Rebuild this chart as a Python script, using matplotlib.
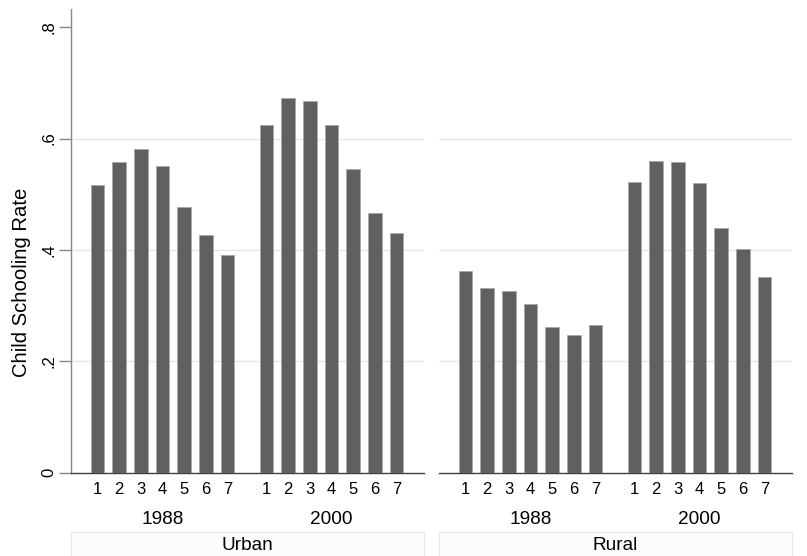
import matplotlib
matplotlib.use("Agg")
import matplotlib.pyplot as plt
from matplotlib.patches import Rectangle
import numpy as np

plt.rcParams['font.family'] = ['Liberation Sans', 'DejaVu Sans']

# data
areas = ["Urban", "Rural"]
years = ["1988", "2000"]
groups = ["1", "2", "3", "4", "5", "6", "7"]
urban_1988 = [0.517, 0.557, 0.581, 0.551, 0.477, 0.426, 0.390]
urban_2000 = [0.624, 0.673, 0.668, 0.624, 0.545, 0.466, 0.430]
rural_1988 = [0.362, 0.331, 0.326, 0.302, 0.262, 0.247, 0.266]
rural_2000 = [0.522, 0.560, 0.558, 0.521, 0.439, 0.402, 0.351]
values = {"Urban": [urban_1988, urban_2000], "Rural": [rural_1988, rural_2000]}

bar_color = "#606060"
grid_color = "#e6e6e6"
gap = 1.8

fig = plt.figure(figsize=(8.07, 5.56), dpi=100)

W, H = 807.0, 556.0
panel_left = [71, 439]
panel_w = 353
y0_px, ytop_px = 472.7, 9.3

x_pos = np.arange(len(groups))
for i, area in enumerate(areas):
    ax = fig.add_axes([panel_left[i] / W, (H - y0_px) / H, panel_w / W, (y0_px - ytop_px) / H])
    ticks = []
    labels = []
    for j, yr in enumerate(years):
        xs = x_pos + j * (len(groups) - 1 + gap)
        ax.bar(xs, values[area][j], width=0.63, color=bar_color,
               edgecolor="#a8a8a8", linewidth=0.6, zorder=3)
        ticks += list(xs)
        labels += groups
        ax.text(xs.mean(), -0.1, yr, transform=ax.get_xaxis_transform(),
                ha="center", va="center", fontsize=13.7)
    ax.set_xlim(-1.22, 6 + 6 + gap + 1.27)
    ax.set_ylim(0, 0.832)
    ax.set_xticks(ticks)
    ax.set_xticklabels(labels, fontsize=12)
    ax.tick_params(axis="x", length=0, pad=7)
    ax.set_yticks([0, 0.2, 0.4, 0.6, 0.8])
    for g in [0.2, 0.4, 0.6]:
        ax.axhline(g, color=grid_color, linewidth=1.0, zorder=1)
    for s in ["top", "right"]:
        ax.spines[s].set_visible(False)
    ax.spines["bottom"].set_color("#404040")
    ax.spines["bottom"].set_linewidth(1.0)
    if i == 0:
        ax.spines["left"].set_color("#888888")
        ax.spines["left"].set_linewidth(1.0)
        ax.set_yticklabels(["0", ".2", ".4", ".6", ".8"], rotation=90,
                           va="center", fontsize=12)
        ax.tick_params(axis="y", length=8.5, color="#888888", width=1.0, pad=2)
        ax.set_ylabel("Child Schooling Rate", fontsize=14.6)
        ax.yaxis.set_label_coords(-0.1397, 0.41)
        ax.yaxis.label.set_verticalalignment("center")
    else:
        ax.spines["left"].set_visible(False)
        ax.tick_params(axis="y", left=False, labelleft=False)

    # panel strip
    fig.add_artist(Rectangle((panel_left[i] / W, -0.01), panel_w / W, (H - 531.7) / H + 0.01,
                             transform=fig.transFigure, facecolor="#fbfcfd",
                             edgecolor="#e3e9ef", linewidth=1.0))
    fig.text((panel_left[i] + panel_w / 2) / W, (H - 545) / H, area,
             ha="center", va="center", fontsize=13.7)

fig.savefig("out.png", dpi=100)
